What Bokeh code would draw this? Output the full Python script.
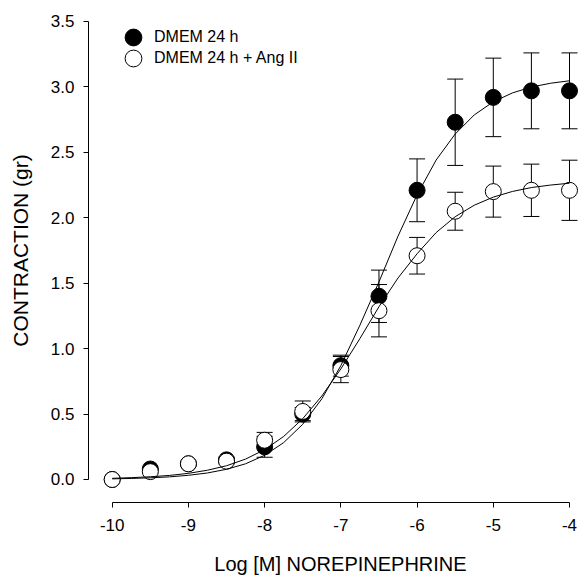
import math
from bokeh.plotting import figure
from bokeh.models import (ColumnDataSource, Whisker, TeeHead, FixedTicker,
                          Legend, LegendItem, Range1d, Label)
from bokeh.embed import file_html
from bokeh.resources import INLINE

# ---- data ----
log_conc = [-10, -9.5, -9, -8.5, -8, -7.5, -7, -6.5, -6, -5.5, -5, -4.5, -4]

dmem_mean = [0.00, 0.08, 0.12, 0.15, 0.25, 0.50, 0.87, 1.40, 2.21, 2.73, 2.92, 2.97, 2.97]
dmem_sem = [0.00, 0.01, 0.01, 0.02, 0.08, 0.05, 0.08, 0.20, 0.24, 0.33, 0.30, 0.29, 0.29]

angii_mean = [0.00, 0.06, 0.12, 0.14, 0.30, 0.52, 0.84, 1.29, 1.71, 2.05, 2.20, 2.21, 2.21]
angii_sem = [0.00, 0.01, 0.01, 0.02, 0.06, 0.08, 0.10, 0.20, 0.14, 0.145, 0.195, 0.20, 0.23]

# fitted curves
curve_x = [-10.0, -9.75, -9.5, -9.25, -9.0, -8.75, -8.5, -8.25, -8.0, -7.75, -7.5,
           -7.25, -7.0, -6.75, -6.5, -6.25, -6.0, -5.75, -5.5, -5.25, -5.0, -4.75,
           -4.5, -4.25, -4.0]
dmem_fit = [0.005, 0.008, 0.013, 0.020, 0.032, 0.050, 0.078, 0.120, 0.185, 0.282, 0.422,
            0.616, 0.870, 1.179, 1.510, 1.860, 2.175, 2.441, 2.640, 2.786, 2.886, 2.954,
            2.999, 3.028, 3.047]
angii_fit = [0.009, 0.014, 0.021, 0.031, 0.047, 0.071, 0.105, 0.156, 0.228, 0.329, 0.465,
             0.638, 0.845, 1.077, 1.320, 1.540, 1.725, 1.887, 2.008, 2.096, 2.158, 2.201,
             2.231, 2.250, 2.264]

x_ticks = [-10, -9, -8, -7, -6, -5, -4]
x_tick_labels = ["-10", "-9", "-8", "-7", "-6", "-5", "-4"]
y_ticks = [0.0, 0.5, 1.0, 1.5, 2.0, 2.5, 3.0, 3.5]
y_tick_labels = ["0.0", "0.5", "1.0", "1.5", "2.0", "2.5", "3.0", "3.5"]

series_names = ["DMEM 24 h", "DMEM 24 h + Ang II"]
x_title = "Log [M] NOREPINEPHRINE"
y_title = "CONTRACTION (gr)"

FONT = "Liberation Sans"

# the frame fills the whole canvas; the axes sit at fixed positions inside it
X_AXIS_AT = -0.1758   # y value where the detached x axis line lies
Y_AXIS_AT = -10.311   # x value where the detached y axis line lies

p = figure(width=579, height=577, output_backend="svg", toolbar_location=None,
           x_range=Range1d(-11.4655, -3.869), y_range=Range1d(-0.7489, 3.6604),
           min_border_left=0, min_border_right=0, min_border_top=0, min_border_bottom=0)
p.outline_line_color = None
p.grid.visible = False
p.background_fill_color = "white"

for ax in (p.xaxis[0], p.yaxis[0]):
    ax.axis_line_color = "black"
    ax.axis_line_width = 1
    ax.major_tick_line_color = "black"
    ax.major_tick_in = 0
    ax.major_tick_out = 5
    ax.minor_tick_line_color = None
    ax.major_label_text_font = FONT
    ax.major_label_text_font_size = "17px"
    ax.major_label_text_color = "black"

p.xaxis.fixed_location = X_AXIS_AT
p.xaxis.bounds = (x_ticks[0], x_ticks[-1])
p.xaxis.ticker = FixedTicker(ticks=x_ticks)
p.xaxis.major_label_overrides = dict(zip(x_ticks, x_tick_labels))
p.xaxis.major_label_standoff = 11

p.yaxis.fixed_location = Y_AXIS_AT
p.yaxis.bounds = (y_ticks[0], y_ticks[-1])
p.yaxis.ticker = FixedTicker(ticks=y_ticks)
p.yaxis.major_label_overrides = dict(zip(y_ticks, y_tick_labels))
p.yaxis.major_label_standoff = 9

# axis titles (screen px from the frame's bottom-left)
p.add_layout(Label(x=340, y=14, x_units="screen", y_units="screen", text=x_title,
                   text_align="center", text_baseline="alphabetic",
                   text_font=FONT, text_font_size="20px", text_color="black"))
p.add_layout(Label(x=20, y=327, x_units="screen", y_units="screen", text=y_title,
                   angle=math.pi / 2, text_align="center", text_baseline="alphabetic",
                   text_font=FONT, text_font_size="21px", text_color="black"))

src_d = ColumnDataSource(dict(x=log_conc, y=dmem_mean,
                              lo=[m - s for m, s in zip(dmem_mean, dmem_sem)],
                              hi=[m + s for m, s in zip(dmem_mean, dmem_sem)]))
src_a = ColumnDataSource(dict(x=log_conc, y=angii_mean,
                              lo=[m - s for m, s in zip(angii_mean, angii_sem)],
                              hi=[m + s for m, s in zip(angii_mean, angii_sem)]))

for src in (src_d, src_a):
    w = Whisker(base="x", lower="lo", upper="hi", source=src, level="underlay",
                line_color="black", line_width=1,
                lower_head=TeeHead(size=16, line_color="black", line_width=1),
                upper_head=TeeHead(size=16, line_color="black", line_width=1))
    p.add_layout(w)

r_d = p.scatter("x", "y", source=src_d, size=16, marker="circle",
                fill_color="black", line_color="black", line_width=1)
r_a = p.scatter("x", "y", source=src_a, size=16, marker="circle",
                fill_color="white", line_color="black", line_width=1)

p.line(curve_x, dmem_fit, line_color="black", line_width=1)
p.line(curve_x, angii_fit, line_color="black", line_width=1)

for name, rend, loc in ((series_names[0], r_d, (112, 519)), (series_names[1], r_a, (112, 498))):
    lg = Legend(items=[LegendItem(label=name, renderers=[rend])], location=loc,
                glyph_width=42, glyph_height=42, label_standoff=-6, padding=0, margin=0,
                border_line_color=None, background_fill_alpha=0,
                label_text_font=FONT, label_text_font_size="16px",
                label_text_color="black")
    p.add_layout(lg)

open("out.html", "w").write(file_html(p, INLINE))
